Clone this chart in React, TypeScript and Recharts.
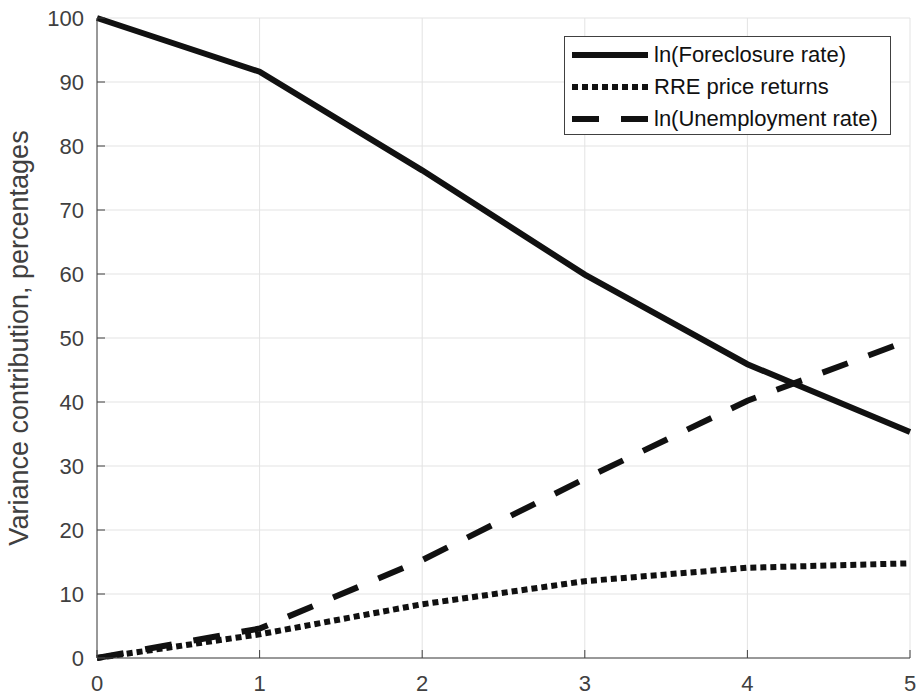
import React from 'react';
import { LineChart, Line, XAxis, YAxis, CartesianGrid, Legend } from 'recharts';

const horizon = [0, 1, 2, 3, 4, 5];
const foreclosure = [100, 91.6, 76.2, 59.9, 45.9, 35.3];
const rrePrice = [0, 3.7, 8.4, 12, 14.1, 14.8];
const unemployment = [0, 4.6, 15.3, 28, 40.2, 49.7];

const xTicks = [0, 1, 2, 3, 4, 5];
const yTicks = [0, 10, 20, 30, 40, 50, 60, 70, 80, 90, 100];

const seriesNames = ['ln(Foreclosure rate)', 'RRE price returns', 'ln(Unemployment rate)'];

const data = horizon.map((h, i) => ({
  h,
  foreclosure: foreclosure[i],
  rre: rrePrice[i],
  unemployment: unemployment[i],
}));

const FONT = '"Liberation Sans", Arial, Helvetica, sans-serif';
const AXIS = '#404040';
const INK = '#111111';
const TICK_LEN = 8;
const TICK_GAP = 12;

const BottomTick = ({ x, y, payload }: any) => (
  <g>
    <line x1={x} x2={x} y1={y - TICK_GAP} y2={y - TICK_GAP - TICK_LEN} stroke={AXIS} strokeWidth={1} />
    <text x={x} y={y} dy={21} textAnchor="middle" fill={AXIS} fontSize={22} fontFamily={FONT}>
      {payload.value}
    </text>
  </g>
);

const LeftTick = ({ x, y, payload }: any) => (
  <g>
    <line x1={x + TICK_GAP} x2={x + TICK_GAP + TICK_LEN} y1={y} y2={y} stroke={AXIS} strokeWidth={1} />
    <text x={x - 1} y={y} dy="0.36em" textAnchor="end" fill={AXIS} fontSize={22} fontFamily={FONT}>
      {payload.value}
    </text>
  </g>
);

const TopTick = ({ x, y }: any) => (
  <line x1={x} x2={x} y1={y} y2={y + TICK_LEN} stroke={AXIS} strokeWidth={1} />
);

const RightTick = ({ x, y }: any) => (
  <line x1={x} x2={x - TICK_LEN} y1={y} y2={y} stroke={AXIS} strokeWidth={1} />
);

const legendStyles = [
  { dash: undefined, width: 6 },
  { dash: '6 4', width: 6 },
  { dash: '27 22', width: 6 },
];

const LegendBox = () => (
  <div
    style={{
      width: 327,
      height: 99,
      boxSizing: 'border-box',
      border: `1px solid ${AXIS}`,
      background: '#fff',
      padding: '2px 0 0 7px',
      fontFamily: FONT,
      fontSize: 22,
      color: INK,
      lineHeight: '32px',
    }}
  >
    {seriesNames.map((name, i) => (
      <div key={name} style={{ display: 'flex', alignItems: 'center' }}>
        <svg width={76} height={10} style={{ marginRight: 6, flex: 'none' }}>
          <line
            x1={0}
            x2={76}
            y1={5}
            y2={5}
            stroke={INK}
            strokeWidth={legendStyles[i].width}
            strokeDasharray={legendStyles[i].dash}
          />
        </svg>
        <span style={{ whiteSpace: 'nowrap' }}>{name}</span>
      </div>
    ))}
  </div>
);

const YLabel = ({ viewBox }: any) => {
  const cx = 19;
  const cy = viewBox.y + viewBox.height / 2;
  return (
    <text
      x={cx}
      y={cy}
      transform={`rotate(-90, ${cx}, ${cy})`}
      textAnchor="middle"
      dominantBaseline="central"
      fill={AXIS}
      fontSize={27}
      fontFamily={FONT}
    >
      Variance contribution, percentages
    </text>
  );
};

export default function App() {
  return (
    <div style={{ position: 'absolute', left: 0, top: 0, background: '#fff' }}>
      <LineChart width={920} height={698} data={data} margin={{ top: 18, right: 10, bottom: 0, left: 12 }}>
        <CartesianGrid stroke="#e3e3e3" strokeWidth={1} />
        <XAxis
          dataKey="h"
          type="number"
          domain={[0, 5]}
          ticks={xTicks}
          height={40}
          tickSize={0}
          tickMargin={TICK_GAP}
          tickLine={false}
          tick={<BottomTick />}
          stroke={AXIS}
          interval={0}
        />
        <XAxis
          xAxisId="top"
          orientation="top"
          dataKey="h"
          type="number"
          domain={[0, 5]}
          ticks={xTicks}
          height={0}
          tickSize={0}
          tickMargin={0}
          tickLine={false}
          tick={<TopTick />}
          stroke={AXIS}
          interval={0}
        />
        <YAxis
          type="number"
          domain={[0, 100]}
          ticks={yTicks}
          width={85}
          tickSize={0}
          tickMargin={TICK_GAP}
          tickLine={false}
          tick={<LeftTick />}
          stroke={AXIS}
          interval={0}
          label={{ content: <YLabel /> }}
        />
        <YAxis
          yAxisId="right"
          orientation="right"
          type="number"
          domain={[0, 100]}
          ticks={yTicks}
          width={0}
          tickSize={0}
          tickMargin={0}
          tickLine={false}
          tick={<RightTick />}
          stroke={AXIS}
          interval={0}
        />
        <Legend
          verticalAlign="middle"
          align="center"
          layout="vertical"
          content={<LegendBox />}
          wrapperStyle={{ top: 36, left: 564, width: 327, height: 99 }}
        />
        <Line
          dataKey="foreclosure"
          name={seriesNames[0]}
          stroke={INK}
          strokeWidth={6}
          dot={false}
          type="linear"
          isAnimationActive={false}
        />
        <Line
          dataKey="rre"
          name={seriesNames[1]}
          stroke={INK}
          strokeWidth={6}
          strokeDasharray="6 4"
          dot={false}
          type="linear"
          isAnimationActive={false}
        />
        <Line
          dataKey="unemployment"
          name={seriesNames[2]}
          stroke={INK}
          strokeWidth={6}
          strokeDasharray="27 22"
          dot={false}
          type="linear"
          isAnimationActive={false}
        />
      </LineChart>
    </div>
  );
}
